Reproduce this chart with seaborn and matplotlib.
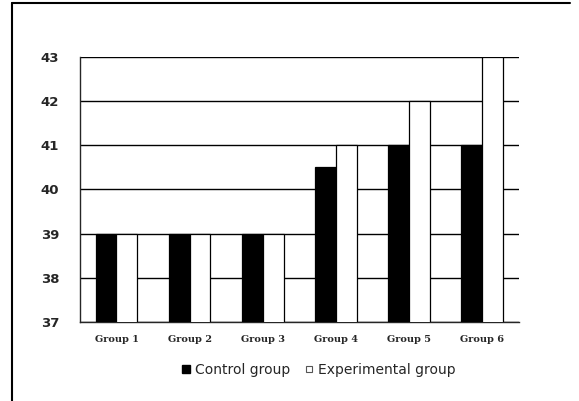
import pandas as pd
import matplotlib
matplotlib.use("Agg")
import matplotlib.pyplot as plt
import seaborn as sns
from matplotlib.lines import Line2D
from matplotlib.ticker import FixedLocator

# Data
groups = ["Group 1", "Group 2", "Group 3", "Group 4", "Group 5", "Group 6"]
group_labels = ["Group 1", "Group 2", "Group 3", "Group 4", "Group 5", "Group 6"]
control = [39, 39, 39, 40.5, 41, 41]
experimental = [39, 39, 39, 41, 42, 43]
series_names = ["Control group", "Experimental group"]

df = pd.DataFrame({
    "Group": groups * 2,
    "Score": control + experimental,
    "Series": [series_names[0]] * len(groups) + [series_names[1]] * len(groups),
})

sns.set_style("white")
plt.rcParams["font.family"] = ["DejaVu Sans"]

fig = plt.figure(figsize=(5.79, 4.01), dpi=100)
ax = fig.add_axes([0.138, 0.197, 0.758, 0.661])

sns.barplot(data=df, x="Group", y="Score", hue="Series",
            palette={"Control group": "black", "Experimental group": "white"},
            width=0.57, gap=0, edgecolor="black", linewidth=0.9,
            legend=False, ax=ax, zorder=3)

ax.set_ylim(37, 43)
ax.set_xlim(-0.5, len(groups) - 0.5)
ax.set_yticks(range(37, 44))
ax.grid(axis="y", color="black", linewidth=1.0, zorder=0)
ax.set_axisbelow(True)

for side in ["top", "right"]:
    ax.spines[side].set_visible(False)
ax.spines["left"].set_linewidth(1.0)
ax.spines["bottom"].set_linewidth(1.0)

ax.set_xlabel("")
ax.set_ylabel("")
ax.set_xticks(range(len(groups)))
ax.set_xticklabels(group_labels, family="DejaVu Serif", fontweight="bold", fontsize=7)
ax.tick_params(axis="x", length=0, pad=9)
ax.tick_params(axis="y", length=0, pad=15, labelsize=9.5)
for lab in ax.get_yticklabels():
    lab.set_fontweight("bold")
    lab.set_family("DejaVu Sans")

# small ticks at group boundaries
ax.xaxis.set_minor_locator(FixedLocator([i + 0.5 for i in range(len(groups) - 1)]))
ax.tick_params(axis="x", which="minor", direction="in", length=3, width=0.8)

handles = [
    Line2D([], [], marker="s", linestyle="none", markerfacecolor="black",
           markeredgecolor="black", markersize=6),
    Line2D([], [], marker="s", linestyle="none", markerfacecolor="white",
           markeredgecolor="#555555", markersize=5, markeredgewidth=0.8),
]
fig.legend(handles, series_names, loc="center", bbox_to_anchor=(0.548, 0.077),
           ncol=2, frameon=False, fontsize=10, handletextpad=0.2,
           columnspacing=0.8, handlelength=1.0)

# outer frame (left and top edges of the scanned box)
fig.add_artist(Line2D([0.020, 0.020], [0.0, 0.993], color="black", linewidth=1.5,
                      transform=fig.transFigure))
fig.add_artist(Line2D([0.020, 0.985], [0.993, 0.993], color="black", linewidth=1.5,
                      transform=fig.transFigure))

fig.savefig("out.png", dpi=100)
